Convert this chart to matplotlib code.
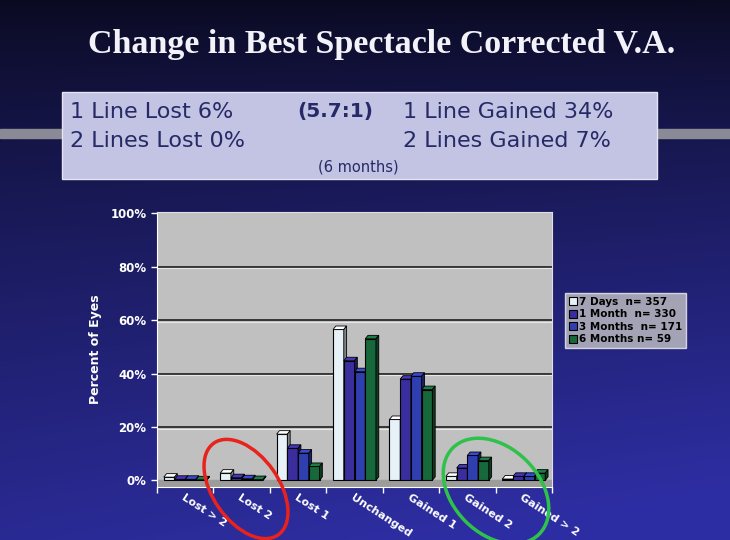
import numpy as np
import matplotlib
matplotlib.use("Agg")
import matplotlib.pyplot as plt
from matplotlib.patches import Polygon, Rectangle, Ellipse

# data
categories = ["Lost > 2", "Lost 2", "Lost 1", "Unchanged", "Gained 1", "Gained 2", "Gained > 2"]
series_names = ["7 Days  n= 357", "1 Month  n= 330", "3 Months  n= 171", "6 Months n= 59"]
days_7 = [1.2, 2.7, 17.3, 56.5, 22.8, 1.5, 0.5]
month_1 = [0.4, 1.0, 12.0, 44.8, 37.9, 4.6, 1.5]
months_3 = [0.4, 0.6, 10.2, 40.7, 39.0, 9.3, 1.5]
months_6 = [0.2, 0.3, 5.2, 53.0, 34.0, 7.4, 2.7]
yticks = [0, 20, 40, 60, 80, 100]

colors = ["#e6f2f8", "#3a2d9e", "#2f3fb0", "#17683a"]
W, H = 730, 540


def shade(c, f):
    rgb = np.array(matplotlib.colors.to_rgb(c))
    return tuple(np.clip(rgb * f, 0, 1))


fig = plt.figure(figsize=(W / 100, H / 100), dpi=100)

# slide background in pixel coordinates
bg = fig.add_axes([0, 0, 1, 1], zorder=-10)
gy = np.linspace(0, 1, 256)[:, None]
gx = np.linspace(0, 1, 256)[None, :]
t = np.clip(0.85 * gy + 0.25 * gx * gy, 0, 1) ** 0.8
top = np.array([0.04, 0.04, 0.13])
bot = np.array([0.18, 0.18, 0.64])
img = top + (bot - top) * t[..., None]
bg.imshow(img, extent=[0, W, H, 0], aspect="auto")
bg.set_xlim(0, W)
bg.set_ylim(H, 0)
bg.axis("off")

bg.text(382, 44, "Change in Best Spectacle Corrected V.A.", color="#f2f2f8",
        fontsize=24.5, fontweight="bold", family="Liberation Serif",
        ha="center", va="center")

# grey rule behind the box
bg.add_patch(Rectangle((0, 129), W, 9, color="#8a8a96", zorder=1))
bg.add_patch(Rectangle((62, 92), 595, 87, facecolor="#c3c3e3",
                       edgecolor="#e4e4f4", lw=1, zorder=2))
tc = "#262a66"
bg.text(70, 112, "1 Line Lost 6%", color=tc, fontsize=16, va="center", zorder=3)
bg.text(70, 141, "2 Lines Lost 0%", color=tc, fontsize=16, va="center", zorder=3)
bg.text(297, 112, "(5.7:1)", color=tc, fontsize=14.5, fontweight="bold", va="center", zorder=3)
bg.text(403, 112, "1 Line Gained 34%", color=tc, fontsize=16, va="center", zorder=3)
bg.text(403, 141, "2 Lines Gained 7%", color=tc, fontsize=16, va="center", zorder=3)
bg.text(358, 167, "(6 months)", color=tc, fontsize=10.5, ha="center", va="center", zorder=3)

# bar chart
ax = fig.add_axes([157 / W, 1 - 487 / H, 395 / W, 275 / H])
ax.set_facecolor("#c0c0c0")
ax.set_xlim(-0.5, len(categories) - 0.5)
ax.set_ylim(-2.5, 100.5)
ax.axhspan(-2.5, 0, color="#9c9c9c", zorder=0.5)
for y in yticks[1:-1]:
    ax.axhline(y, color="#2a2a2a", lw=1.3, zorder=1)
    ax.axhline(y - 0.6, color="#e8e8e8", lw=0.8, zorder=1)

x = np.arange(len(categories))
bw = 0.19
dx, dy = 0.05, 1.3
for i, (vals, c) in enumerate(zip([days_7, month_1, months_3, months_6], colors)):
    xs = x + (i - 1.5) * bw
    ax.bar(xs, vals, bw, color=c, edgecolor="black", lw=0.8, zorder=3 + i,
           label=series_names[i])
    for xc, h in zip(xs, vals):
        x0, x1 = xc - bw / 2, xc + bw / 2
        ax.add_patch(Polygon([(x0, h), (x1, h), (x1 + dx, h + dy), (x0 + dx, h + dy)],
                             closed=True, facecolor=shade(c, 1.2) if i else "#ffffff",
                             edgecolor="black", lw=0.6, zorder=3 + i))
        ax.add_patch(Polygon([(x1, 0), (x1, h), (x1 + dx, h + dy), (x1 + dx, dy)],
                             closed=True, facecolor=shade(c, 0.55),
                             edgecolor="black", lw=0.6, zorder=3 + i))

ax.set_yticks(yticks)
ax.set_yticklabels([f"{v}%" for v in yticks], color="white", fontsize=8.5,
                   fontweight="bold")
ax.set_xticks(np.arange(len(categories) + 1) - 0.5)
ax.set_xticklabels([])
for xc, lab in zip(x, categories):
    ax.text(xc, -4.5, lab, color="white", fontsize=8, fontweight="bold",
            rotation=-33, rotation_mode="anchor", ha="left", va="top",
            transform=ax.transData, clip_on=False)
ax.tick_params(axis="both", colors="white", length=4, width=1)
ax.set_ylabel("Percent of Eyes", color="white", fontsize=9, fontweight="bold",
              labelpad=6)
for s in ["top", "right"]:
    ax.spines[s].set_color("#e0e0e0")
ax.spines["left"].set_color("white")
ax.spines["bottom"].set_color("white")

leg = fig.legend(loc="upper left", bbox_to_anchor=(565 / W, 1 - 293 / H),
                 fontsize=7.5, frameon=True, fancybox=False, handlelength=0.8,
                 handleheight=0.8, handletextpad=0.2, borderpad=0.35,
                 labelspacing=0.25, borderaxespad=0)
leg.get_frame().set_facecolor("#c4c4c4")
leg.get_frame().set_edgecolor("#f0f0f0")
for t in leg.get_texts():
    t.set_fontweight("bold")

# highlight ellipses drawn on top of the slide
over = fig.add_axes([0, 0, 1, 1], zorder=10)
over.set_xlim(0, W)
over.set_ylim(H, 0)
over.axis("off")
over.add_patch(Ellipse((246, 489), 66, 112, angle=-35, fill=False,
                       edgecolor="#e8221c", lw=2.5))
over.add_patch(Ellipse((496, 491), 86, 122, angle=-45, fill=False,
                       edgecolor="#2fc24a", lw=2.5))

fig.savefig("out.png", dpi=100)
